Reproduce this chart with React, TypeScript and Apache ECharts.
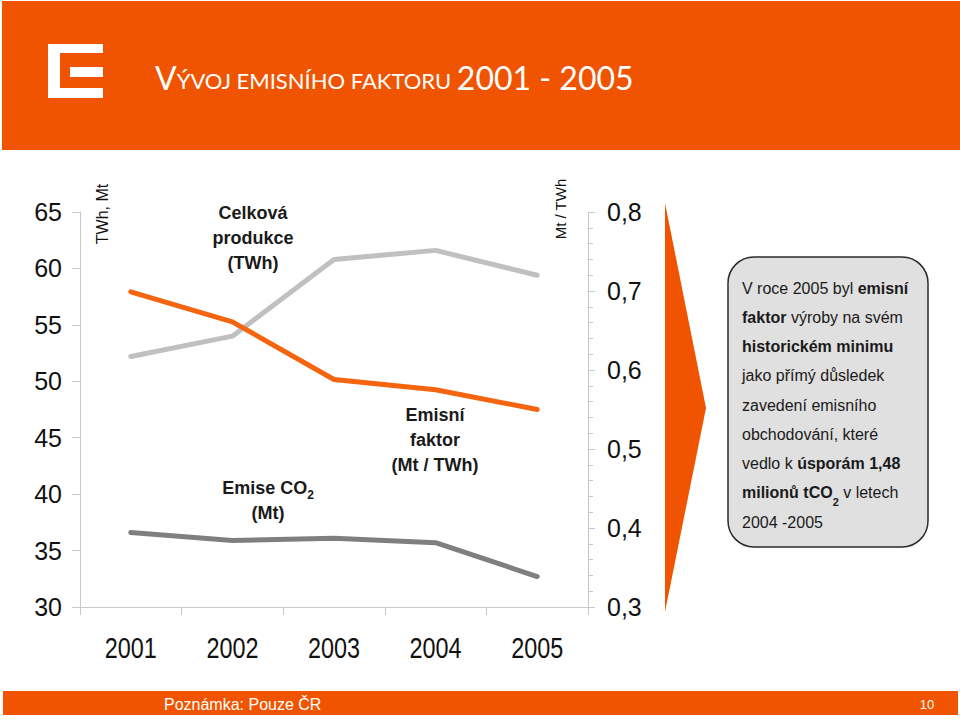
import React, { useEffect, useRef } from "react";
import * as echarts from "echarts";

const years = ["2001", "2002", "2003", "2004", "2005"];
const production = [52.2, 54.0, 60.8, 61.6, 59.4]; // Celková produkce (TWh)
const emissions = [36.6, 35.9, 36.1, 35.7, 32.7]; // Emise CO2 (Mt)
const factor = [0.699, 0.661, 0.588, 0.575, 0.55]; // Emisní faktor (Mt / TWh)

const ORANGE = "#f05400";
const LINE_ORANGE = "#f5640f";
const SANS = '"Liberation Sans", Arial, Helvetica, sans-serif';

export default function App() {
  const ref = useRef<HTMLDivElement>(null);
  useEffect(() => {
    if (!ref.current) return;
    const chart = echarts.init(ref.current, null, { renderer: "svg" });
    const axisGray = "#c8c8c8";
    const staticGraphics: any[] = [
      // header band
      { type: "rect", shape: { x: 2, y: 1, width: 958, height: 149 }, style: { fill: ORANGE } },
      // logo
      { type: "rect", shape: { x: 48, y: 44, width: 55, height: 54 }, style: { fill: "#ffffff" } },
      { type: "rect", shape: { x: 60, y: 53, width: 43, height: 35 }, style: { fill: ORANGE } },
      { type: "rect", shape: { x: 70, y: 67, width: 33, height: 10 }, style: { fill: "#ffffff" } },
      // title
      {
        type: "text",
        x: 155,
        y: 86,
        style: {
          text: "{big|V}{small|ÝVOJ EMISNÍHO FAKTORU }{big|2001 - 2005}",
          verticalAlign: "bottom",
          align: "left",
          rich: {
            big: { fontSize: 32, fontFamily: "Lato, 'Open Sans', sans-serif", fill: "#ffffff", verticalAlign: "bottom", lineHeight: 32, padding: [0, 0, -7, 0] },
            small: { fontSize: 22, fontFamily: "Lato, 'Open Sans', sans-serif", fill: "#ffffff", verticalAlign: "bottom", lineHeight: 22, padding: [0, 0, -5, 0] },
          },
        },
      },
      // axis names
      {
        type: "text",
        x: 102,
        y: 214,
        rotation: Math.PI / 2,
        style: { text: "TWh, Mt", fontSize: 16, fontFamily: SANS, fill: "#111", align: "center", verticalAlign: "middle" },
      },
      {
        type: "text",
        x: 560,
        y: 209,
        rotation: Math.PI / 2,
        style: { text: "Mt / TWh", fontSize: 15, fontFamily: SANS, fill: "#111", align: "center", verticalAlign: "middle" },
      },
      // series annotations
      {
        type: "text",
        x: 253,
        y: 238,
        style: {
          text: "Celková\nprodukce\n(TWh)",
          fontSize: 18,
          fontWeight: "bold",
          fontFamily: SANS,
          fill: "#1a1a1a",
          align: "center",
          verticalAlign: "middle",
          lineHeight: 25,
        },
      },
      {
        type: "text",
        x: 435,
        y: 440,
        style: {
          text: "Emisní\nfaktor\n(Mt / TWh)",
          fontSize: 18,
          fontWeight: "bold",
          fontFamily: SANS,
          fill: "#1a1a1a",
          align: "center",
          verticalAlign: "middle",
          lineHeight: 25,
        },
      },
      {
        type: "text",
        x: 268,
        y: 500.5,
        style: {
          text: "{b|Emise CO}{s|2}\n{b|(Mt)}",
          align: "center",
          verticalAlign: "middle",
          rich: {
            b: { fontSize: 18, fontWeight: "bold", fontFamily: SANS, fill: "#1a1a1a", lineHeight: 25 },
            s: { fontSize: 12, fontWeight: "bold", fontFamily: SANS, fill: "#1a1a1a", lineHeight: 9, verticalAlign: "bottom" },
          },
        },
      },
      // arrow
      {
        type: "polygon",
        shape: { points: [[665, 203], [706, 408], [665, 612]] },
        style: { fill: ORANGE },
      },
      // text box
      {
        type: "rect",
        shape: { x: 728, y: 257, width: 200, height: 290, r: 26 },
        style: { fill: "#e0e0e0", stroke: "#2b2b2b", lineWidth: 1.5 },
      },
      {
        type: "text",
        x: 742,
        y: 273.5,
        style: {
          text: [
            "V roce 2005 byl {b|emisní}",
            "{b|faktor} výroby na svém",
            "{b|historickém minimu}",
            "jako přímý důsledek",
            "zavedení emisního",
            "obchodování, které",
            "vedlo k {b|úsporám 1,48}",
            "{b|milionů tCO}{s|2} v letech",
            "2004 -2005",
          ].join("\n"),
          fontSize: 16,
          fontFamily: SANS,
          fill: "#1a1a1a",
          lineHeight: 29.25,
          align: "left",
          verticalAlign: "top",
          rich: {
            b: { fontSize: 16, fontWeight: "bold", fontFamily: SANS, fill: "#1a1a1a", lineHeight: 29.25 },
            s: { fontSize: 11, fontWeight: "bold", fontFamily: SANS, fill: "#1a1a1a", lineHeight: 17, verticalAlign: "bottom" },
          },
        },
      },
      // footer band
      { type: "rect", shape: { x: 3, y: 691, width: 955, height: 24 }, style: { fill: ORANGE } },
      {
        type: "text",
        x: 164,
        y: 704,
        style: { text: "Poznámka: Pouze ČR", fontSize: 16, fontFamily: SANS, fill: "#ffffff", align: "left", verticalAlign: "middle" },
      },
      {
        type: "text",
        x: 927,
        y: 704,
        style: { text: "10", fontSize: 13, fontFamily: SANS, fill: "#ffffff", align: "center", verticalAlign: "middle" },
      },
    ];

    chart.setOption({
      animation: false,
      backgroundColor: "#ffffff",
      grid: { left: 80, right: 372, top: 212, bottom: 113, outerBoundsMode: "none" },
      xAxis: {
        type: "category",
        data: years,
        boundaryGap: true,
        axisLine: { lineStyle: { color: axisGray, width: 1 } },
        axisTick: { show: true, length: 8, lineStyle: { color: axisGray } },
        axisLabel: { show: false },
      },
      yAxis: [
        {
          type: "value",
          min: 30,
          max: 65,
          interval: 5,
          position: "left",
          splitLine: { show: false },
          axisLine: { show: true, lineStyle: { color: axisGray } },
          axisTick: { show: true, length: 8, lineStyle: { color: axisGray } },
          axisLabel: { fontSize: 25, color: "#111", fontFamily: SANS, margin: 18 },
        },
        {
          type: "value",
          min: 0.3,
          max: 0.8,
          interval: 0.1,
          position: "right",
          splitLine: { show: false },
          axisLine: { show: true, lineStyle: { color: axisGray } },
          axisTick: { show: true, length: 7, lineStyle: { color: axisGray } },
          minorTick: { show: true, splitNumber: 5, length: 5, lineStyle: { color: axisGray } },
          axisLabel: {
            fontSize: 25,
            color: "#111",
            fontFamily: SANS,
            margin: 19,
            formatter: (v: number) => v.toFixed(1).replace(".", ","),
          },
        },
      ],
      series: [
        {
          name: "Celková produkce (TWh)",
          type: "line",
          yAxisIndex: 0,
          data: production,
          showSymbol: false,
          lineStyle: { color: "#c0c0c0", width: 5, cap: "round", join: "round" },
          z: 2,
        },
        {
          name: "Emise CO2 (Mt)",
          type: "line",
          yAxisIndex: 0,
          data: emissions,
          showSymbol: false,
          lineStyle: { color: "#7f7f7f", width: 5, cap: "round", join: "round" },
          z: 3,
        },
        {
          name: "Emisní faktor (Mt / TWh)",
          type: "line",
          yAxisIndex: 1,
          data: factor,
          showSymbol: false,
          lineStyle: { color: LINE_ORANGE, width: 5, cap: "round", join: "round" },
          z: 4,
        },
      ],
      graphic: staticGraphics,
    });

    // Category labels (condensed look), positioned through the category axis scale
    const baseY = chart.convertToPixel({ yAxisIndex: 0 }, 30) as number;
    const yearLabels = years.map((yr) => {
      const px = chart.convertToPixel({ xAxisIndex: 0 }, yr) as number;
      return {
        type: "text",
        x: px,
        y: baseY + 41,
        scaleX: 0.78,
        style: {
          text: yr,
          fontSize: 30,
          fontFamily: SANS,
          fill: "#111",
          align: "center",
          verticalAlign: "middle",
        },
      };
    });
    chart.setOption({ graphic: [...staticGraphics, ...yearLabels] }, { replaceMerge: ["graphic"] });

    return () => chart.dispose();
  }, []);
  return (
    <div
      ref={ref}
      style={{ position: "fixed", left: 0, top: 0, width: 960, height: 720, background: "#fff" }}
    />
  );
}
